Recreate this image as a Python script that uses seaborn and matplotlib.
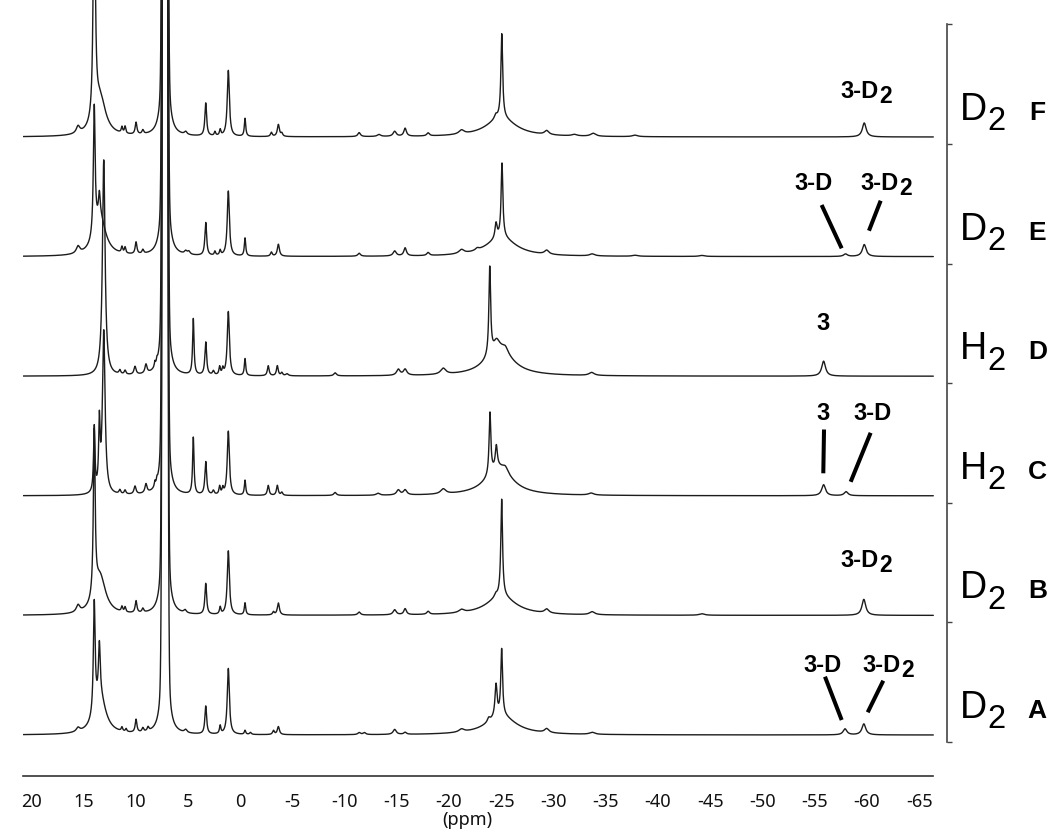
import numpy as np
import pandas as pd
import matplotlib
matplotlib.use("Agg")
import matplotlib.pyplot as plt
import seaborn as sns

# ---------------- data ----------------
spectrum_names = ["A", "B", "C", "D", "E", "F"]      # bottom -> top
gas_names = ["D", "D", "H", "H", "D", "D"]           # D2 / H2 atmosphere (subscript 2)
ppm_start, ppm_end = 20.74, -66.35
row_step = 119.6                                      # vertical offset between spectra

x_ticks = [20, 15, 10, 5, 0, -5, -10, -15, -20, -25, -30, -35, -40, -45, -50, -55, -60, -65]
x_tick_labels = ["20", "15", "10", "5", "0", "-5", "-10", "-15", "-20", "-25", "-30",
                 "-35", "-40", "-45", "-50", "-55", "-60", "-65"]
x_minor_ticks = [17.5, 12.5, 7.5, 2.5, -2.5, -7.5, -12.5, -17.5, -22.5, -27.5, -32.5,
                 -37.5, -42.5, -47.5, -52.5, -57.5, -62.5]

# peaks: (shift ppm, height, half width ppm[, gaussian fraction])
solvent_peaks = [(7.18, 5000, 0.153, 1.0), (7.18, 950, 0.10, 0.0)]

peaks_A = [(15.5, 4, 0.2), (13.95, 111, 0.1), (13.46, 52, 0.1), (13.4, 38, 0.65),
           (11.3, 4, 0.08), (10.9, 3, 0.08), (9.95, 13, 0.1), (9.3, 4, 0.1), (8.8, 4, 0.1),
           (5.2, 3, 0.15), (3.28, 28, 0.1), (1.9, 8, 0.08), (1.12, 66, 0.12),
           (-0.48, 4, 0.08), (-1.0, 2, 0.1), (-3.2, 4, 0.1), (-3.67, 8, 0.12),
           (-11.4, 2, 0.15), (-11.9, 2, 0.15), (-14.8, 5, 0.18), (-15.8, 2, 0.15),
           (-21.2, 3, 0.3), (-23.8, 4, 0.15), (-24.5, 32, 0.12), (-25.04, 66, 0.1),
           (-25.0, 19, 1.7), (-29.35, 4, 0.25), (-33.7, 2, 0.3),
           (-57.9, 6, 0.22), (-59.7, 11, 0.22)]

peaks_B = [(15.5, 7, 0.2), (13.95, 165, 0.1), (13.4, 38, 0.65),
           (11.3, 5, 0.08), (11.0, 5, 0.08), (9.95, 12, 0.1), (9.3, 4, 0.1),
           (5.26, 3, 0.15), (3.28, 31, 0.1), (1.9, 7, 0.08), (1.12, 64, 0.12),
           (-0.48, 12, 0.08), (-3.2, 3, 0.1), (-3.67, 12, 0.12),
           (-11.4, 3, 0.15), (-14.8, 5, 0.18), (-15.8, 6, 0.15), (-18.0, 3, 0.15),
           (-21.2, 3, 0.3), (-24.47, 3, 0.15), (-25.04, 97, 0.1), (-25.0, 19, 1.7),
           (-29.35, 4, 0.25), (-33.7, 3, 0.3), (-44.2, 1.5, 0.3),
           (-59.7, 16, 0.22)]

peaks_C = [(13.95, 65, 0.08), (13.46, 65, 0.08), (13.04, 163, 0.15),
           (11.5, 4, 0.1), (11.0, 4, 0.1), (10.05, 8, 0.12), (9.0, 9, 0.12),
           (8.15, 5, 0.06), (7.95, 4, 0.06),
           (4.47, 57, 0.08), (3.28, 33, 0.1), (2.55, 4, 0.1), (1.95, 8, 0.08),
           (1.65, 6, 0.08), (1.12, 64, 0.12), (-0.48, 15, 0.08),
           (-2.7, 10, 0.1), (-3.57, 10, 0.1), (-4.0, 3, 0.1), (-9.1, 3, 0.15),
           (-13.2, 2, 0.2), (-15.15, 5, 0.2), (-15.8, 5, 0.2), (-19.45, 5, 0.3),
           (-23.92, 62, 0.1), (-24.53, 22, 0.12), (-25.4, 5, 0.3), (-24.8, 28, 1.5),
           (-33.6, 2, 0.3), (-55.85, 11, 0.22), (-58.0, 4, 0.22)]

peaks_D = [(13.04, 216, 0.15),
           (11.5, 4, 0.1), (11.0, 4, 0.1), (10.05, 8, 0.12), (9.0, 9, 0.12),
           (8.15, 5, 0.06), (7.95, 4, 0.06),
           (4.47, 56, 0.08), (3.28, 33, 0.1), (2.55, 4, 0.1), (1.95, 8, 0.08),
           (1.65, 6, 0.08), (1.12, 64, 0.12), (-0.48, 17, 0.08),
           (-2.7, 10, 0.1), (-3.57, 10, 0.1), (-4.0, 3, 0.1), (-4.5, 2, 0.15),
           (-9.1, 3, 0.15), (-15.15, 6, 0.2), (-15.8, 6, 0.2), (-19.45, 6, 0.3),
           (-23.9, 88, 0.1), (-24.55, 8, 0.3), (-25.4, 5, 0.3), (-24.8, 28, 1.5),
           (-33.65, 3, 0.3), (-55.85, 15, 0.22)]

peaks_E = [(15.5, 7, 0.2), (13.95, 129, 0.1), (13.46, 23, 0.1), (13.4, 38, 0.65),
           (11.3, 6, 0.08), (11.0, 6, 0.08), (9.95, 12, 0.1), (9.3, 4, 0.1),
           (5.2, 3, 0.15), (4.9, 3, 0.15), (3.28, 33, 0.1), (2.4, 4, 0.08),
           (1.9, 5, 0.08), (1.12, 65, 0.12), (-0.48, 18, 0.08), (-3.0, 4, 0.1),
           (-3.67, 12, 0.12), (-11.4, 3, 0.15), (-14.8, 5, 0.18), (-15.8, 8, 0.15),
           (-18.0, 3, 0.15), (-21.2, 4, 0.3), (-22.7, 2, 0.2), (-24.5, 15, 0.12),
           (-25.07, 74, 0.1), (-25.0, 19, 1.7), (-29.35, 4, 0.25), (-33.7, 2, 0.3),
           (-37.8, 1, 0.3), (-44.2, 1, 0.3), (-57.95, 2.5, 0.22), (-59.74, 12, 0.22)]

peaks_F = [(15.5, 7, 0.2), (13.95, 300, 0.1), (13.4, 38, 0.65),
           (11.3, 6, 0.08), (11.0, 7, 0.08), (9.95, 12, 0.1), (9.3, 4, 0.1),
           (5.2, 3, 0.15), (3.28, 33, 0.1), (2.4, 4, 0.08), (1.9, 6, 0.08),
           (1.12, 66, 0.12), (-0.48, 18, 0.08), (-3.0, 4, 0.1), (-3.67, 12, 0.12),
           (-4.0, 3, 0.1), (-11.4, 4, 0.15), (-13.3, 2, 0.2), (-14.8, 5, 0.18),
           (-15.8, 8, 0.15), (-18.0, 3, 0.15), (-21.2, 4, 0.3), (-24.47, 4, 0.15),
           (-25.05, 84, 0.1), (-25.0, 19, 1.7), (-29.35, 4, 0.25), (-32.0, 1.5, 0.3),
           (-33.8, 3, 0.3), (-37.8, 1.5, 0.3), (-59.74, 14, 0.22)]

peak_lists = [peaks_A, peaks_B, peaks_C, peaks_D, peaks_E, peaks_F]

# peak annotations: (row index, text, subscript, left edge ppm, baseline height within row)
annot_rows = [5, 4, 4, 3, 2, 2, 1, 0, 0]
annot_text = ["3-D", "3-D", "3-D", "3", "3", "3-D", "3-D", "3-D", "3-D"]
annot_sub = ["2", "", "2", "", "", "", "2", "", "2"]
annot_ppm = [-57.45, -53.1, -59.35, -55.2, -55.2, -58.7, -57.45, -53.9, -59.55]
annot_height = [38.7, 66.6, 66.6, 46.2, 75.8, 75.8, 48.7, 63.3, 63.3]

# leader lines: (row index, ppm0, h0, ppm1, h1)
lead_rows = [4, 4, 2, 2, 0, 0]
lead_ppm0 = [-55.66, -61.31, -55.89, -60.35, -55.98, -61.56]
lead_h0 = [51.6, 55.9, 66.3, 63.0, 58.3, 54.3]
lead_ppm1 = [-57.58, -60.19, -55.82, -58.44, -57.58, -60.07]
lead_h1 = [8.3, 25.9, 22.5, 14.0, 15.0, 22.7]


# ---------------- build spectra ----------------
def lineshape(x, pk):
    c, h, w = pk[0], pk[1], pk[2]
    g = pk[3] if len(pk) > 3 else 0.0
    d = x - c
    lor = w * w / (w * w + d * d)
    gau = np.exp(-np.log(2) * (d / w) ** 2)
    return h * ((1 - g) * lor + g * gau)


ppm = np.linspace(ppm_start, ppm_end, 16000)
frames = []
for i, (name, plist) in enumerate(zip(spectrum_names, peak_lists)):
    y = np.zeros_like(ppm)
    for pk in plist + solvent_peaks:
        y += lineshape(ppm, pk)
    frames.append(pd.DataFrame({"ppm": ppm, "intensity": y + i * row_step, "spectrum": name}))
df = pd.concat(frames, ignore_index=True)

# ---------------- plot ----------------
sns.set_theme(style="white")
plt.rcParams["axes.unicode_minus"] = False
plt.rcParams["font.family"] = ["Liberation Sans", "DejaVu Sans"]

W, H = 1050, 833
fig = plt.figure(figsize=(W / 100, H / 100), dpi=100)
ax = fig.add_axes([23.3 / W, 57 / H, 923.4 / W, 776 / H])

sns.lineplot(data=df, x="ppm", y="intensity", units="spectrum", estimator=None,
             sort=False, color="#1c1c1c", linewidth=1.0, ax=ax, legend=False)

ax.set_xlim(20.74, -67.63)
ax.set_ylim(-41, 735)
ax.set_xlabel("")
ax.set_ylabel("")

for s in ["top", "left"]:
    ax.spines[s].set_visible(False)
ax.spines["bottom"].set_bounds(ppm_start, ppm_end)
ax.spines["bottom"].set_color("#333333")
ax.spines["bottom"].set_linewidth(1.2)
ax.spines["right"].set_bounds(-7, 6 * row_step - 7)
ax.spines["right"].set_color("#444444")
ax.spines["right"].set_linewidth(1.2)

ax.set_xticks(x_ticks)
ax.set_xticklabels(x_tick_labels, fontfamily="Noto Sans", fontsize=13)
ax.set_xticks(x_minor_ticks, minor=True)
ax.tick_params(axis="x", which="major", direction="out", length=5.3, width=0.9,
               color="#333333", pad=7, labelcolor="#111111")
ax.tick_params(axis="x", which="minor", direction="out", length=2.9, width=0.9,
               color="#333333")

ax.set_yticks([i * row_step - 7 for i in range(7)])
ax.yaxis.tick_right()
ax.tick_params(axis="y", which="major", direction="out", length=3.6, width=1.0,
               color="#444444", labelright=False, labelleft=False, left=False)

fig.text(467.5 / W, 1 - 820 / H, "(ppm)", ha="center", va="center",
         fontfamily="Noto Sans", fontsize=13, color="#111111")


def text_with_sub(x, y, main, sub, size, subsize, weight, dy, dx=0.3):
    t = ax.text(x, y, main, fontsize=size, fontweight=weight, ha="left",
                va="baseline", clip_on=False, color="black")
    if sub:
        ax.annotate(sub, xy=(1, 0), xycoords=t, xytext=(dx, dy),
                    textcoords="offset points", fontsize=subsize, fontweight=weight,
                    ha="left", va="bottom", annotation_clip=False, color="black")
    return t


# peak annotations
for r, txt, sb, xp, hh in zip(annot_rows, annot_text, annot_sub, annot_ppm, annot_height):
    text_with_sub(xp, r * row_step + hh, txt, sb, 17, 16.5, "bold", -3.6)

# leader lines
for r, p0, h0, p1, h1 in zip(lead_rows, lead_ppm0, lead_h0, lead_ppm1, lead_h1):
    ax.plot([p0, p1], [r * row_step + h0, r * row_step + h1], color="black",
            lw=2.9, solid_capstyle="butt", clip_on=False)

# right-hand labels
for i, (name, gas) in enumerate(zip(spectrum_names, gas_names)):
    yb = i * row_step + 17
    text_with_sub(-68.9, yb, gas, "2", 27, 23.5, "normal", -6.8)
    ax.text(-76.3, yb, name, fontsize=19, fontweight="bold", ha="center",
            va="baseline", clip_on=False, color="black")

fig.savefig("out.png", dpi=100)
